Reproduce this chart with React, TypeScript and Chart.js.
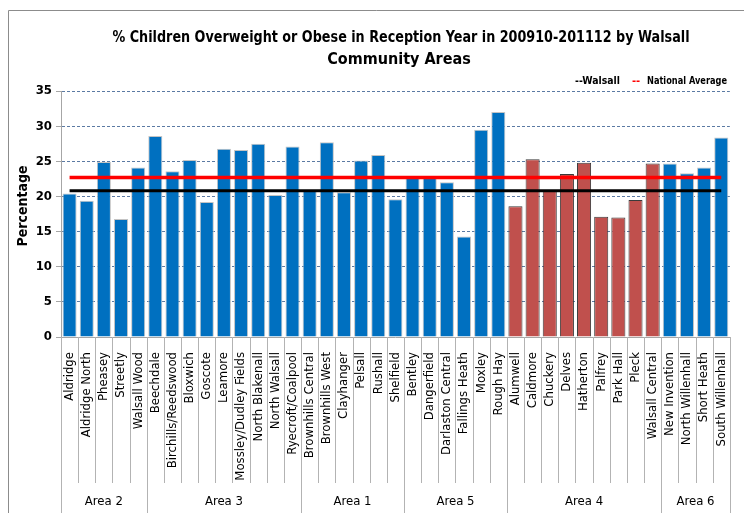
import React, { useEffect, useRef } from "react";
import { Chart, registerables } from "chart.js";

Chart.register(...registerables);

const chartTitle = [
  "% Children Overweight or Obese in Reception Year in 200910-201112 by Walsall",
  "Community Areas",
];
const yAxisTitle = "Percentage";

const communities = [
  "Aldridge", "Aldridge North", "Pheasey", "Streetly", "Walsall Wood",
  "Beechdale", "Birchills/Reedswood", "Bloxwich", "Goscote", "Leamore",
  "Mossley/Dudley Fields", "North Blakenall", "North Walsall", "Ryecroft/Coalpool",
  "Brownhills Central", "Brownhills West", "Clayhanger", "Pelsall", "Rushall", "Shelfield",
  "Bentley", "Dangerfield", "Darlaston Central", "Fallings Heath", "Moxley", "Rough Hay",
  "Alumwell", "Caldmore", "Chuckery", "Delves", "Hatherton", "Palfrey", "Park Hall",
  "Pleck", "Walsall Central",
  "New Invention", "North Willenhall", "Short Heath", "South Willenhall",
];

const percentages = [
  20.4, 19.4, 24.9, 16.8, 24.1,
  28.6, 23.6, 25.2, 19.2, 26.8, 26.6, 27.5, 20.2, 27.1,
  20.9, 27.7, 20.6, 25.1, 25.9, 19.6,
  22.7, 22.9, 22.0, 14.3, 29.5, 32.0,
  18.6, 25.3, 20.9, 23.2, 24.8, 17.1, 17.0, 19.5, 24.7,
  24.7, 23.3, 24.1, 28.4,
];

const areaNames = ["Area 2", "Area 3", "Area 1", "Area 5", "Area 4", "Area 6"];
const areaSizes = [5, 9, 6, 6, 9, 4];
const highlightedArea = "Area 4";

const walsallAverage = 20.8;
const nationalAverage = 22.7;

const yMin = 0;
const yMax = 35;
const yStep = 5;

const FONT = '"Liberation Sans Narrow", "DejaVu Sans Condensed", "Liberation Sans", sans-serif';
const BLUE = "#0070C0";
const RED = "#C0504D";

const areaOfIndex: string[] = [];
areaNames.forEach((a, i) => {
  for (let k = 0; k < areaSizes[i]; k++) areaOfIndex.push(a);
});

const decorPlugin = {
  id: "decor",
  afterDraw(chart: any) {
    const { ctx, chartArea, scales } = chart;
    const x = scales.x;
    const n = communities.length;
    const half = (x.getPixelForValue(1) - x.getPixelForValue(0)) / 2;
    const axisY = chartArea.bottom;
    ctx.save();
    // frame
    ctx.strokeStyle = "#8c8c8c";
    ctx.lineWidth = 1;
    ctx.beginPath();
    ctx.moveTo(8.5, 513);
    ctx.lineTo(8.5, 10.5);
    ctx.lineTo(744, 10.5);
    ctx.stroke();

    // separators
    const boundaries = new Set<number>();
    let acc = 0;
    boundaries.add(0);
    areaSizes.forEach((s) => {
      acc += s;
      boundaries.add(acc);
    });
    ctx.strokeStyle = "#b3b3b3";
    for (let i = 0; i <= n; i++) {
      const px = Math.round(x.getPixelForValue(i) - half) + 0.5;
      ctx.beginPath();
      ctx.moveTo(px, axisY);
      ctx.lineTo(px, boundaries.has(i) ? 513 : 483);
      ctx.stroke();
    }

    // area labels
    ctx.fillStyle = "#000";
    ctx.font = "13px " + FONT;
    ctx.textAlign = "center";
    ctx.textBaseline = "middle";
    let start = 0;
    areaNames.forEach((a, i) => {
      const end = start + areaSizes[i];
      const cx = (x.getPixelForValue(start) - half + x.getPixelForValue(end - 1) + half) / 2;
      ctx.fillText(a, cx, 502);
      start = end;
    });

    // title
    ctx.font = "bold 16px " + FONT;
    ctx.fillText(chartTitle[0], 401, 38, 577);
    ctx.fillText(chartTitle[1], 399, 60, 577);

    // legend
    ctx.font = "bold 11px " + FONT;
    ctx.textAlign = "left";
    const ly = 81;
    ctx.fillStyle = "#000";
    ctx.fillText("--Walsall", 575, ly, 45);
    ctx.fillStyle = "#ff0000";
    ctx.fillText("--", 632, ly, 12);
    ctx.fillStyle = "#000";
    ctx.fillText("National Average", 647, ly, 80);

    // y axis title
    ctx.translate(23, 206);
    ctx.rotate(-Math.PI / 2);
    ctx.textAlign = "center";
    ctx.font = "bold 14px " + FONT;
    ctx.fillText(yAxisTitle, 0, 0);
    ctx.restore();
  },
};

export default function App() {
  const ref = useRef<HTMLCanvasElement>(null);
  useEffect(() => {
    if (!ref.current) return;
    const chart = new Chart(ref.current, {
      type: "bar",
      data: {
        labels: communities,
        datasets: [
          {
            type: "line",
            label: "National Average",
            data: communities.map(() => nationalAverage),
            borderColor: "#ff0000",
            borderWidth: 3.5,
            pointRadius: 0,
            order: 0,
          } as any,
          {
            type: "line",
            label: "Walsall",
            data: communities.map(() => walsallAverage),
            borderColor: "#000000",
            borderWidth: 3,
            pointRadius: 0,
            order: 1,
          } as any,
          {
            type: "bar",
            label: "Percentage",
            data: percentages,
            backgroundColor: areaOfIndex.map((a) => (a === highlightedArea ? RED : BLUE)),
            borderColor: areaOfIndex.map((a) => (a === highlightedArea ? "#3a3a3a" : "#c4c4c4")),
            borderWidth: 1,
            barPercentage: 0.82,
            categoryPercentage: 1,
            order: 2,
          },
        ],
      },
      options: {
        responsive: false,
        animation: false,
        layout: { padding: { left: 0, right: 11, top: 91, bottom: 0 } },
        plugins: {
          legend: { display: false },
          title: { display: false },
          tooltip: { enabled: false },
        },
        scales: {
          x: {
            grid: { display: false },
            border: { display: true, color: "#a6a6a6" },
            ticks: {
              autoSkip: false,
              minRotation: 90,
              maxRotation: 90,
              padding: 7,
              color: "#000",
              font: { family: FONT, size: 13 },
            },
            afterFit: (s: any) => {
              s.height = 178;
            },
          },
          y: {
            min: yMin,
            max: yMax,
            ticks: {
              stepSize: yStep,
              color: "#000",
              padding: 4,
              font: { family: FONT, size: 13, weight: "bold" },
            },
            grid: {
              color: "#5b7aa3",
              tickColor: "#a6a6a6",
              tickLength: 5,
              tickBorderDash: [],
            },
            border: { display: true, color: "#a6a6a6", dash: [3, 2] },
            afterFit: (s: any) => {
              s.width = 61;
            },
          },
        },
      },
      plugins: [decorPlugin],
    });
    return () => chart.destroy();
  }, []);
  return (
    <div style={{ position: "absolute", left: 0, top: 0, width: 744, height: 515, background: "#fff" }}>
      <canvas ref={ref} width={744} height={515} style={{ display: "block" }} />
    </div>
  );
}
